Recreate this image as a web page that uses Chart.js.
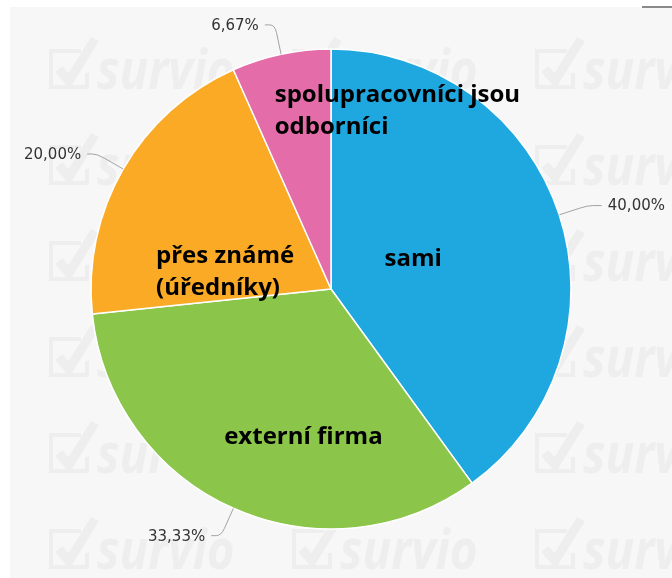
<!DOCTYPE html>
<html>
<head>
<meta charset="utf-8">
<script src="https://cdn.jsdelivr.net/npm/chart.js@4.4.1/dist/chart.umd.min.js"></script>
<style>
  html, body { margin: 0; padding: 0; background: #fff; }
  #wrap { width: 672px; height: 578px; position: relative; }
</style>
</head>
<body>
<div id="wrap"><canvas id="myChart"></canvas></div>
<script>
// answers, counts out of 15 respondents
const categories = ['sami', 'externí firma', 'přes známé (úředníky)', 'spolupracovníci jsou odborníci'];
const counts = [6, 5, 3, 1];
const sliceColors = ['#1fa8e0', '#8bc54a', '#fbaa26', '#e46ca9'];

// text inside the slices, split into lines
const labelLines = [['sami'], ['externí firma'], ['přes známé', '(úředníky)'], ['spolupracovníci jsou', 'odborníci']];
// where that text sits: share of the radius, turn from the slice middle (deg)
const labelDist = [0.363, 0.631, 0.447, 0.79];
const labelTurn = [-1.5, -13.5, -20.9, 32.5];

const total = counts.reduce((a, b) => a + b, 0);
function pct(v) {
  return (v / total * 100).toFixed(2).replace('.', ',') + '%';
}

// survio watermark tile
function drawLogo(c, x, cy) {
  c.save();
  c.strokeStyle = '#eeeeee';
  c.fillStyle = '#eeeeee';
  c.lineWidth = 4;
  c.beginPath();
  c.moveTo(x + 30, cy - 16);
  c.lineTo(x, cy - 16);
  c.lineTo(x, cy + 20);
  c.lineTo(x + 36, cy + 20);
  c.lineTo(x + 36, cy + 6);
  c.stroke();
  c.lineWidth = 9;
  c.beginPath();
  c.moveTo(x + 8, cy + 2);
  c.lineTo(x + 18, cy + 14);
  c.lineTo(x + 44, cy - 28);
  c.stroke();
  c.translate(x + 46, cy + 22);
  c.scale(0.85, 1);
  c.font = 'italic bold 56px "Open Sans"';
  c.textBaseline = 'alphabetic';
  c.fillText('survio', 0, 0);
  c.restore();
}

const backdrop = {
  id: 'backdrop',
  beforeDraw(chart) {
    const c = chart.ctx;
    c.save();
    c.fillStyle = '#fff';
    c.fillRect(0, 0, chart.width, chart.height);
    c.fillStyle = '#f7f7f7';
    c.fillRect(10, 7, chart.width - 10, chart.height - 7);
    c.fillStyle = '#8a8a8a';
    c.fillRect(642, 6, 30, 2);
    for (let row = 0; row < 6; row++) {
      for (let col = 0; col < 3; col++) {
        drawLogo(c, 51 + col * 243, 67 + row * 96);
      }
    }
    c.restore();
  }
};

const sliceLabels = {
  id: 'sliceLabels',
  afterDatasetsDraw(chart) {
    const c = chart.ctx;
    const arcs = chart.getDatasetMeta(0).data;
    c.save();
    arcs.forEach((arc, i) => {
      const p = arc.getProps(['x', 'y', 'startAngle', 'endAngle', 'outerRadius'], true);
      const mid = (p.startAngle + p.endAngle) / 2;
      const R = p.outerRadius;

      // name of the answer inside the slice
      const a = mid + labelTurn[i] * Math.PI / 180;
      const lx = p.x + Math.cos(a) * R * labelDist[i];
      const ly = p.y + Math.sin(a) * R * labelDist[i];
      c.font = 'bold 24px "Open Sans"';
      c.fillStyle = '#000';
      c.textAlign = 'left';
      c.textBaseline = 'alphabetic';
      const lines = labelLines[i];
      const w = Math.max(...lines.map(s => c.measureText(s).width));
      const lineH = 32;
      lines.forEach((s, k) => {
        const yy = ly + (k - (lines.length - 1) / 2) * lineH + 6.5;
        c.fillText(s, lx - w / 2, yy);
      });

      // percentage outside with a connector
      const cos = Math.cos(mid), sin = Math.sin(mid);
      const side = cos >= 0 ? 1 : -1;
      const x0 = p.x + cos * R, y0 = p.y + sin * R;
      const xq = p.x + cos * (R + 22), yq = p.y + sin * (R + 22);
      const x1 = p.x + cos * (R + 30), y1 = p.y + sin * (R + 30);
      const x2 = x1 + side * (side > 0 ? 14 : 10);
      c.strokeStyle = '#a3a3a3';
      c.lineWidth = 1;
      c.beginPath();
      c.moveTo(x0, y0);
      c.lineTo(xq, yq);
      c.quadraticCurveTo(x1, y1, x1 + side * 5, y1);
      c.lineTo(x2, y1);
      c.stroke();

      c.font = '15px "DejaVu Sans"';
      c.fillStyle = '#333';
      c.textAlign = side > 0 ? 'left' : 'right';
      c.textBaseline = 'middle';
      c.fillText(pct(counts[i]), x2 + side * 6, y1 + 1);
    });
    c.restore();
  }
};

const ctx = document.getElementById('myChart').getContext('2d');
new Chart(ctx, {
  type: 'pie',
  data: {
    labels: categories,
    datasets: [{
      data: counts,
      backgroundColor: sliceColors,
      borderColor: '#ffffff',
      borderWidth: 1.5
    }]
  },
  options: {
    responsive: true,
    maintainAspectRatio: false,
    animation: false,
    radius: 240,
    layout: { padding: { left: 81, right: 91, top: 39, bottom: 39 } },
    plugins: {
      legend: { display: false },
      tooltip: { enabled: false }
    },
    events: []
  },
  plugins: [backdrop, sliceLabels]
});
</script>
</body>
</html>
